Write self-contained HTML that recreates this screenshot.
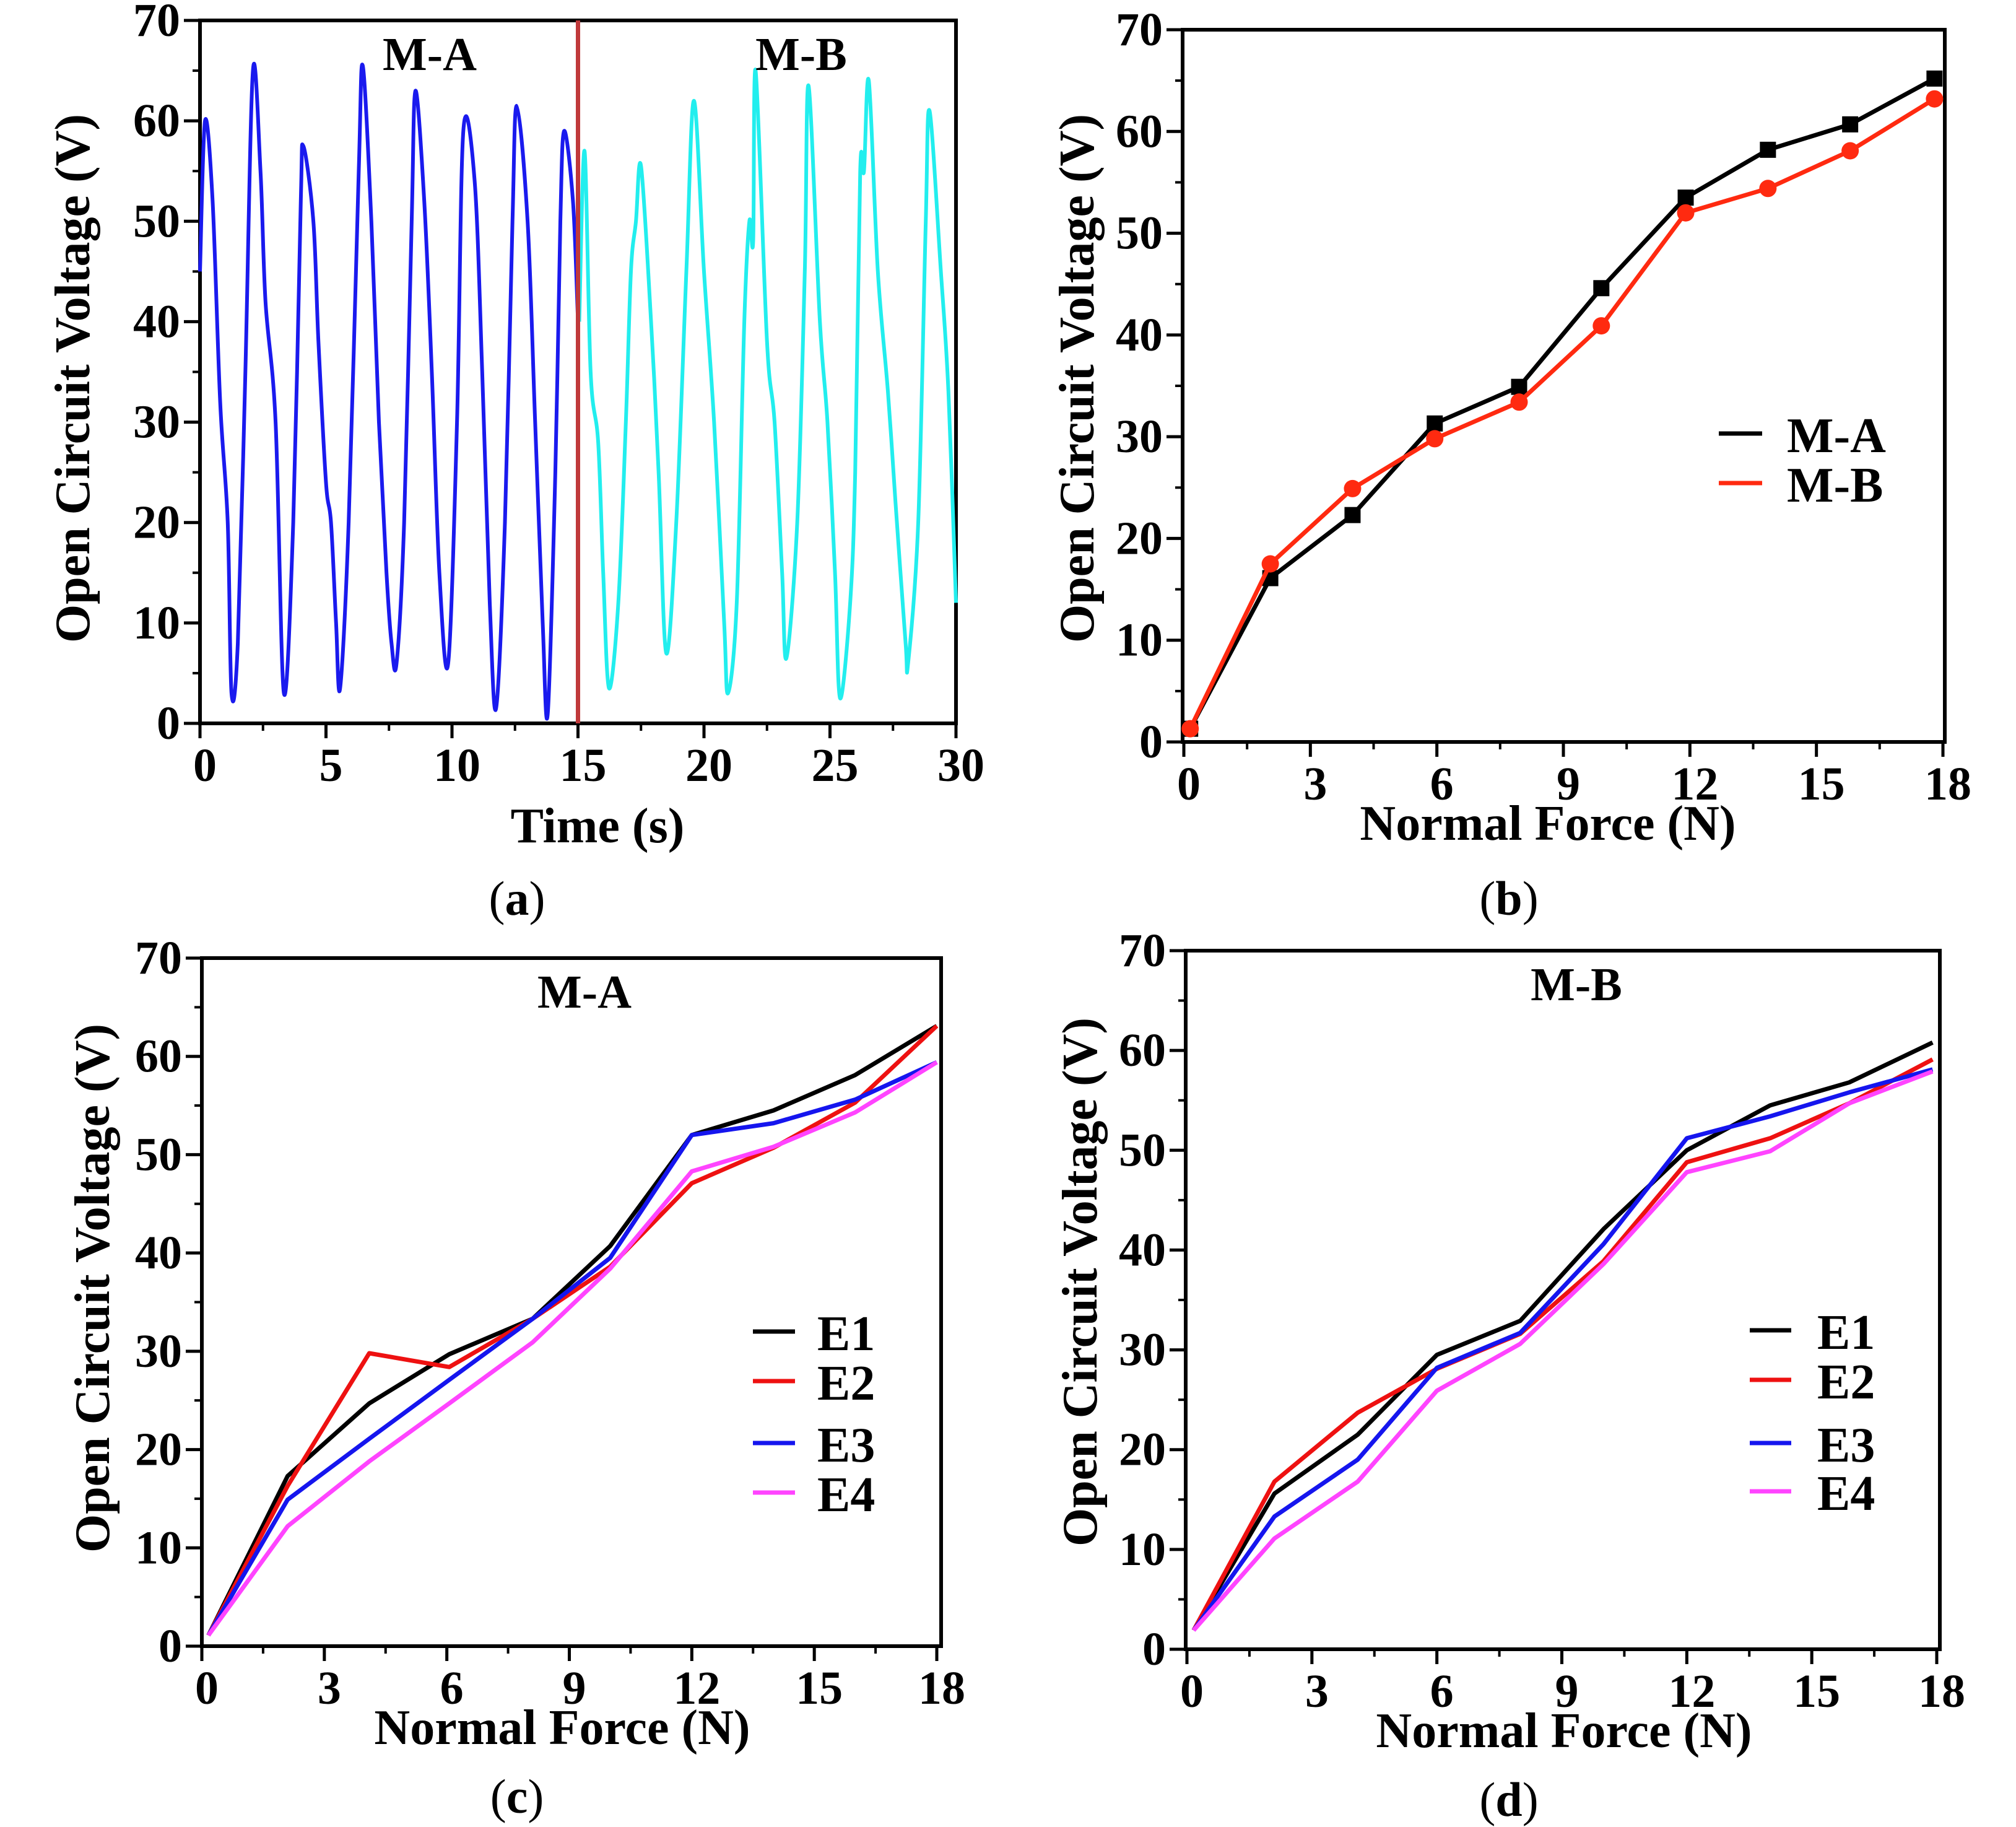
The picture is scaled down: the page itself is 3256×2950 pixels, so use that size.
<!DOCTYPE html>
<html><head><meta charset="utf-8"><style>
html,body{margin:0;padding:0;background:#fff}
svg{display:block}
text{font-family:"Liberation Serif",serif;font-weight:bold;fill:#000}
</style></head><body>
<svg id="fig" width="3256" height="2950" viewBox="0 0 3256 2950" xmlns="http://www.w3.org/2000/svg" font-family="Liberation Serif, serif"></svg>
<script>
// ---- Panel (a) data ----
const aTimeA = [0,0.2,0.5,0.8,1.1,1.25,1.5,1.8,2.1,2.4,2.6,3.0,3.33,3.7,4.0,4.1,4.5,4.7,5.0,5.2,5.4,5.56,5.9,6.3,6.46,6.8,7.1,7.4,7.6,7.8,8.1,8.4,8.55,8.9,9.2,9.5,9.85,10.2,10.45,10.9,11.2,11.5,11.75,12.1,12.4,12.57,13.0,13.3,13.6,13.8,14.1,14.3,14.45,14.8,15.0];
const aVoltA = [45,60,52,32,20,3,8,35,65,55,42,30,3,20,52,57.5,50,38,24,20,10,3.5,20,55,65.5,50,30,15,8,6,20,50,63,52,35,15,6,30,59,54,35,12,1.5,20,50,61.5,50,30,10,1,25,50,59,52,40];
const aTimeB = [15.05,15.26,15.5,15.8,16.0,16.23,16.6,16.9,17.1,17.3,17.5,17.9,18.2,18.5,18.9,19.3,19.6,20.0,20.4,20.8,20.95,21.3,21.6,21.8,21.95,22.05,22.5,22.8,23.1,23.27,23.7,24.0,24.15,24.6,24.9,25.2,25.4,25.8,26.0,26.2,26.35,26.54,26.9,27.3,27.6,28.0,28.1,28.5,28.8,28.95,29.4,29.7,30];
const aVoltB = [40,57,35,28,15,3.5,12,30,45,50,55.5,40,25,7,20,45,62,45,30,10,3,12,40,50,48,65,38,30,15,6.5,20,45,63.5,40,30,15,2.5,12,25,55,55,64,45,33,22,8,6,20,50,61,45,33,12];
// ---- Panel (b) data ----
const bForce = [0.15,2.05,4.0,5.95,7.95,9.9,11.9,13.85,15.8,17.8];
const bMA = [1.3,16.1,22.3,31.3,34.9,44.6,53.5,58.2,60.7,65.2];
const bMB = [1.3,17.5,24.9,29.8,33.4,40.9,52.0,54.4,58.1,63.2];
// ---- Panel (c) data ----
const cForce = [0.16,2.1,4.1,6.06,8.1,10,12,14,16,18];
const cE1 = [1.1,17.3,24.7,29.7,33.3,40.7,52.0,54.5,58.1,63.1];
const cE2 = [1.1,16.3,29.8,28.4,33.3,38.6,47.1,50.7,55.3,63.1];
const cE3 = [1.1,14.9,21.1,27.1,33.3,39.5,52.0,53.2,55.6,59.4];
const cE4 = [1.1,12.2,18.8,24.7,30.9,38.4,48.3,50.8,54.3,59.4];
// ---- Panel (d) data ----
const dForce = [0.16,2.1,4.1,6.0,8.0,10,12,14,15.9,17.9];
const dE1 = [1.9,15.6,21.5,29.5,32.9,42.1,50.0,54.5,56.8,60.8];
const dE2 = [1.9,16.8,23.7,28.1,31.6,38.9,48.8,51.2,54.7,59.1];
const dE3 = [1.9,13.3,19.0,28.2,31.7,40.6,51.2,53.4,55.8,58.1];
const dE4 = [1.9,11.1,16.8,25.9,30.6,38.6,47.8,49.9,54.7,57.9];
const yTicks = [0,10,20,30,40,50,60,70];
const timeTicks = [0,5,10,15,20,25,30];
const forceTicks = [0,3,6,9,12,15,18];

const NS = "http://www.w3.org/2000/svg";
const svg = document.getElementById('fig');
function mk(tag, attrs, parent, txt){
  const e = document.createElementNS(NS, tag);
  for (const k in attrs) e.setAttribute(k, attrs[k]);
  if (txt !== undefined) e.textContent = txt;
  (parent || svg).appendChild(e);
  return e;
}
function smoothPath(P){
  let d = 'M' + P[0][0].toFixed(1) + ',' + P[0][1].toFixed(1);
  for (let i = 0; i < P.length - 1; i++) {
    const p0 = P[Math.max(0, i - 1)], p1 = P[i], p2 = P[i + 1], p3 = P[Math.min(P.length - 1, i + 2)];
    const c1x = p1[0] + (p2[0] - p0[0]) / 6, c1y = p1[1] + (p2[1] - p0[1]) / 6;
    const c2x = p2[0] - (p3[0] - p1[0]) / 6, c2y = p2[1] - (p3[1] - p1[1]) / 6;
    d += ` C${c1x.toFixed(1)},${c1y.toFixed(1)} ${c2x.toFixed(1)},${c2y.toFixed(1)} ${p2[0].toFixed(1)},${p2[1].toFixed(1)}`;
  }
  return d;
}
function panel(cfg){
  const g = mk('g', {});
  
  
  const sx = v => cfg.x0 + (v - cfg.xmin) / (cfg.xmax - cfg.xmin) * (cfg.x1 - cfg.x0);
  const sy = v => cfg.y0 - v / 70 * (cfg.y0 - cfg.y1);
  const fr = mk('rect', {x: cfg.fl, y: cfg.y1, width: cfg.fr - cfg.fl, height: cfg.y0 - cfg.y1, fill: 'none', stroke: '#000', 'stroke-width': 6}, g);
  
  
  yTicks.forEach(t => {
    const y = sy(t);
    mk('line', {x1: cfg.fl - 26, x2: cfg.fl, y1: y, y2: y, stroke: '#000', 'stroke-width': 5}, g);
    if (t < 70) mk('line', {x1: cfg.fl - 12, x2: cfg.fl, y1: sy(t + 5), y2: sy(t + 5), stroke: '#000', 'stroke-width': 4}, g);
    const tl = mk('text', {x: cfg.fl - 32, y: y, 'font-size': 76, 'text-anchor': 'end', 'dominant-baseline': 'central'}, g, String(t));
    
    
  });
  cfg.xticks.forEach((t, i) => {
    const x = sx(t);
    mk('line', {x1: x, x2: x, y1: cfg.y0, y2: cfg.y0 + 24, stroke: '#000', 'stroke-width': 5}, g);
    if (i < cfg.xticks.length - 1) {
      const xm = sx((t + cfg.xticks[i + 1]) / 2);
      mk('line', {x1: xm, x2: xm, y1: cfg.y0, y2: cfg.y0 + 12, stroke: '#000', 'stroke-width': 4}, g);
    }
    const tl = mk('text', {x: x + 8, y: cfg.y0 + 68, 'font-size': 76, 'text-anchor': 'middle', 'dominant-baseline': 'central'}, g, String(t));
    
    
  });
  cfg.series.forEach(s => {
    let el;
    if (s.smooth) {
      const P = s.xs.map((v, i) => [sx(v), sy(s.ys[i])]);
      el = mk('path', {d: smoothPath(P), fill: 'none', stroke: s.color, 'stroke-width': s.w || 7, 'stroke-linejoin': 'round'}, g);
    } else {
      const pts = s.xs.map((v, i) => sx(v).toFixed(1) + ',' + sy(s.ys[i]).toFixed(1)).join(' ');
      el = mk('polyline', {points: pts, fill: 'none', stroke: s.color, 'stroke-width': s.w || 7, 'stroke-linejoin': 'round'}, g);
    }
    
    
    if (s.marker) s.xs.forEach((v, i) => {
      let m;
      if (s.marker === 'square') m = mk('rect', {x: sx(v) - 13, y: sy(s.ys[i]) - 13, width: 26, height: 26, fill: s.color}, g);
      else m = mk('circle', {cx: sx(v), cy: sy(s.ys[i]), r: 14, fill: s.color}, g);
      
      
    });
  });
  (cfg.legend || []).forEach(l => {
    const ll = mk('line', {x1: l.lx1, x2: l.lx2, y1: l.y, y2: l.y, stroke: l.color, 'stroke-width': 7}, g);
    
    
    const lt = mk('text', {x: l.tx, y: l.y + 4, 'font-size': 80, 'dominant-baseline': 'central'}, g, l.text);
    
    
  });
  (cfg.titles || []).forEach(t => {
    const tt = mk('text', {x: t.x, y: t.y, 'font-size': 76, 'text-anchor': 'middle', 'dominant-baseline': 'central'}, g, t.text);
    
    
  });
  const xt = mk('text', {x: cfg.xlab[0], y: cfg.xlab[1], 'font-size': 80, 'text-anchor': 'middle', 'dominant-baseline': 'central'}, g, cfg.xlab[2]);
  
  
  const yt = mk('text', {x: 0, y: 0, 'font-size': 80, 'text-anchor': 'middle', 'dominant-baseline': 'central', transform: `translate(${cfg.ylab[0]},${cfg.ylab[1]}) rotate(-90)`}, g, 'Open Circuit Voltage  (V)');
  
  
  const pl = mk('text', {x: cfg.plab[0], y: cfg.plab[1], 'font-size': 78, 'text-anchor': 'middle', 'dominant-baseline': 'central', 'font-weight': 'normal'}, g);
  
  
  mk('tspan', {'font-weight': 'normal'}, pl, '(');
  mk('tspan', {'font-weight': 'bold'}, pl, cfg.plab[2]);
  mk('tspan', {'font-weight': 'normal'}, pl, ')');
  return {g, sx, sy};
}

const pa = panel({name: 'panel-a', x0: 323, x1: 1544, xmin: 0, xmax: 30, fl: 323, fr: 1544, y0: 1168, y1: 33,
  xticks: timeTicks,
  series: [{xs: aTimeA, ys: aVoltA, color: '#1a1aee', name: 'series-m-a', w: 6, smooth: true},
           {xs: aTimeB, ys: aVoltB, color: '#22eeee', name: 'series-m-b', w: 6, smooth: true}],
  titles: [{x: 694, y: 88, text: 'M-A'}, {x: 1294, y: 88, text: 'M-B'}],
  xlab: [965, 1334, 'Time (s)'], ylab: [118, 611], plab: [835, 1450, 'a']});
const div = mk('line', {x1: pa.sx(15), x2: pa.sx(15), y1: 33, y2: 1168, stroke: '#c0393b', 'stroke-width': 7}, pa.g);



panel({name: 'panel-b', x0: 1912, x1: 3138, xmin: 0, xmax: 18, fl: 1910, fr: 3141, y0: 1198, y1: 48,
  xticks: forceTicks,
  series: [{xs: bForce, ys: bMA, color: '#000', name: 'series-m-a', marker: 'square'},
           {xs: bForce, ys: bMB, color: '#ff2a10', name: 'series-m-b', marker: 'circle'}],
  legend: [{lx1: 2776, lx2: 2846, y: 700, color: '#000', tx: 2886, text: 'M-A'},
           {lx1: 2776, lx2: 2846, y: 780, color: '#ff2a10', tx: 2886, text: 'M-B'}],
  xlab: [2500, 1330, 'Normal Force (N)'], ylab: [1740, 611], plab: [2437, 1450, 'b']});

panel({name: 'panel-c', x0: 326, x1: 1513, xmin: 0, xmax: 18, fl: 326, fr: 1520, y0: 2658, y1: 1547,
  xticks: forceTicks,
  series: [{xs: cForce, ys: cE1, color: '#000', name: 'series-e1'},
           {xs: cForce, ys: cE2, color: '#ee1111', name: 'series-e2'},
           {xs: cForce, ys: cE3, color: '#1515ee', name: 'series-e3'},
           {xs: cForce, ys: cE4, color: '#ff44ff', name: 'series-e4'}],
  legend: [{lx1: 1216, lx2: 1284, y: 2150, color: '#000', tx: 1320, text: 'E1'},
           {lx1: 1216, lx2: 1284, y: 2230, color: '#ee1111', tx: 1320, text: 'E2'},
           {lx1: 1216, lx2: 1284, y: 2330, color: '#1515ee', tx: 1320, text: 'E3'},
           {lx1: 1216, lx2: 1284, y: 2410, color: '#ff44ff', tx: 1320, text: 'E4'}],
  titles: [{x: 944, y: 1602, text: 'M-A'}],
  xlab: [908, 2790, 'Normal Force (N)'], ylab: [150, 2080], plab: [835, 2900, 'c']});

panel({name: 'panel-d', x0: 1917, x1: 3128, xmin: 0, xmax: 18, fl: 1915, fr: 3133, y0: 2663, y1: 1535,
  xticks: forceTicks,
  series: [{xs: dForce, ys: dE1, color: '#000', name: 'series-e1'},
           {xs: dForce, ys: dE2, color: '#ee1111', name: 'series-e2'},
           {xs: dForce, ys: dE3, color: '#1515ee', name: 'series-e3'},
           {xs: dForce, ys: dE4, color: '#ff44ff', name: 'series-e4'}],
  legend: [{lx1: 2826, lx2: 2893, y: 2148, color: '#000', tx: 2935, text: 'E1'},
           {lx1: 2826, lx2: 2893, y: 2228, color: '#ee1111', tx: 2935, text: 'E2'},
           {lx1: 2826, lx2: 2893, y: 2330, color: '#1515ee', tx: 2935, text: 'E3'},
           {lx1: 2826, lx2: 2893, y: 2408, color: '#ff44ff', tx: 2935, text: 'E4'}],
  titles: [{x: 2546, y: 1590, text: 'M-B'}],
  xlab: [2526, 2795, 'Normal Force (N)'], ylab: [1745, 2070], plab: [2437, 2905, 'd']});
</script>
</body></html>
